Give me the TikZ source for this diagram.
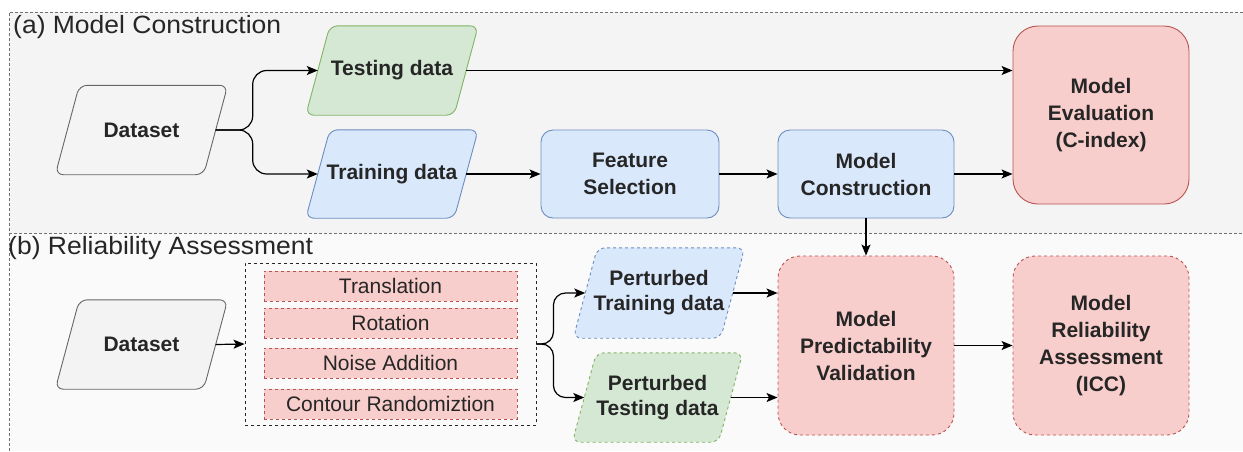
\documentclass[tikz,border=0pt]{standalone}
\usepackage{fontspec}
\setmainfont{Liberation Sans}
\newfontfamily\lblfont[FakeStretch=1.06]{Liberation Sans}
\usetikzlibrary{arrows.meta}
\definecolor{bgA}{HTML}{F4F4F4}
\definecolor{bgB}{HTML}{FAFAFA}
\definecolor{dsB}{HTML}{F3F3F3}
\definecolor{frame}{HTML}{707070}
\definecolor{greenF}{HTML}{D5E8D4}
\definecolor{greenD}{HTML}{82B366}
\definecolor{blueF}{HTML}{DAE8FC}
\definecolor{blueD}{HTML}{6C8EBF}
\definecolor{redF}{HTML}{F8CECC}
\definecolor{redD}{HTML}{B85450}
\definecolor{grayD}{HTML}{666666}
\definecolor{txt}{HTML}{262626}
\pgfdeclarelayer{panel}
\pgfdeclarelayer{shapes}
\pgfsetlayers{panel,shapes,main}
% parallelogram outline behind a named node (node = body, slant added on both sides)
\newcommand\paraoutline[2]{%
  \begin{pgfonlayer}{shapes}
  \draw[#2, rounded corners=8pt, line width=0.9pt]
    (#1.south) -- ([xshift=-12pt]#1.south west) -- ([xshift=12pt]#1.north west)
    -- ([xshift=12pt]#1.north east) -- ([xshift=-12pt]#1.south east) -- cycle;
  \end{pgfonlayer}}
\begin{document}
\begin{tikzpicture}[x=1pt,y=-1pt,
  lbl/.style={font=\lblfont\fontsize{25}{30}\selectfont, anchor=west, inner sep=0pt, text=txt},
  para/.style={rectangle, minimum width=148pt, minimum height=89pt,
    font=\fontsize{21}{26}\selectfont\bfseries, align=center, inner sep=0pt, text=txt},
  procbox/.style={draw, rounded corners=12pt, line width=0.9pt,
    font=\fontsize{21}{27}\selectfont\bfseries, align=center, inner sep=0pt, text=txt},
  itembox/.style={draw=redD, fill=redF, dashed, line width=0.8pt,
    minimum width=253pt, minimum height=30pt, inner sep=0pt,
    font=\fontsize{21}{24}\selectfont, text=txt},
  arr/.style={-{Stealth[length=11pt,width=9pt,inset=2.5pt]}, line width=1.2pt, draw=black}]
\useasboundingbox (0,0) rectangle (1243,451);
% panels
\begin{pgfonlayer}{panel}
\fill[bgA] (9,12) rectangle (1243,233);
\fill[bgB] (9,233) rectangle (1243,451);
\draw[frame, line width=0.8pt, dash pattern=on 3pt off 2pt] (1243,12) -- (9,12) -- (9,451);
\draw[frame, line width=0.8pt, dash pattern=on 3pt off 2pt] (9,233) -- (1243,233);
\end{pgfonlayer}
\node[lbl] (la) at (13,27) {(a) Model Construction};
\node[lbl] (lb) at (8,248) {(b) Reliability Assessment};

% (a)
\node[para] (dsa) at (141.5,130) {Dataset};
\paraoutline{dsa}{draw=grayD, fill=bgA}
\node[para] (test) at (392,70.5) {Testing data};
\paraoutline{test}{draw=greenD, fill=greenF}
\node[para, minimum height=88pt] (train) at (392,174) {Training data};
\paraoutline{train}{draw=blueD, fill=blueF}
\node[procbox, draw=blueD, fill=blueF, minimum width=178pt, minimum height=88pt] (fs) at (630,174) {Feature\\Selection};
\node[procbox, draw=blueD, fill=blueF, minimum width=176pt, minimum height=88pt] (mc) at (866,174) {Model\\Construction};
\node[procbox, draw=redD, fill=redF, rounded corners=25pt, minimum width=176pt, minimum height=178pt] (me) at (1101,115) {Model\\Evaluation\\(C-index)};

\draw[arr, rounded corners=14pt] (dsa.east) -- ++(37,0) |- (test.west);
\draw[arr, rounded corners=14pt] (dsa.east) -- ++(37,0) |- (train.west);
\draw[arr] (train.east) -- (fs.west);
\draw[arr] (fs.east) -- (mc.west);
\draw[arr] (test.east) -- (test.east -| me.west);
\draw[arr] (mc.east) -- (mc.east -| me.west);

% (b)
\node[para] (dsb) at (141.5,344.5) {Dataset};
\paraoutline{dsb}{draw=grayD, fill=dsB}
\node[draw=black!85, dashed, line width=0.9pt, minimum width=291pt, minimum height=162pt, inner sep=0pt] (grp) at (390.5,344) {};
\node[itembox] (tr) at (390.5,286) {Translation};
\node[itembox] (rot) at (390.5,323) {Rotation};
\node[itembox] (noise) at (390.5,363) {Noise Addition};
\node[itembox] (cont) at (390.5,404) {Contour Randomiztion};
\node[para, minimum width=147pt, minimum height=90pt, font=\fontsize{21}{25}\selectfont\bfseries] (pt) at (659,293) {Perturbed\\Training data};
\paraoutline{pt}{dashed, draw=blueD, fill=blueF}
\node[para, minimum width=146pt, minimum height=89pt, font=\fontsize{21}{25}\selectfont\bfseries] (pte) at (657.5,397.5) {Perturbed\\Testing data};
\paraoutline{pte}{dashed, draw=greenD, fill=greenF}
\node[procbox, dashed, draw=redD, fill=redF, rounded corners=22pt, minimum width=176pt, minimum height=179pt] (mpv) at (866,345.5) {Model\\Predictability\\Validation};
\node[procbox, dashed, draw=redD, fill=redF, rounded corners=22pt, minimum width=176pt, minimum height=179pt] (mra) at (1101,345.5) {Model\\Reliability\\Assessment\\(ICC)};

\draw[arr] (dsb.east) -- (grp.west);
\draw[arr, rounded corners=12pt] (grp.east) -- ++(17,0) |- (pt.west);
\draw[arr, rounded corners=12pt] (grp.east) -- ++(17,0) |- (pte.west);
\draw[arr] (pt.east) -- (pt.east -| mpv.west);
\draw[arr] (pte.east) -- (pte.east -| mpv.west);
\draw[arr] (mc.south) -- (mpv.north);
\draw[arr] (mpv.east) -- (mra.west);
\end{tikzpicture}
\end{document}
